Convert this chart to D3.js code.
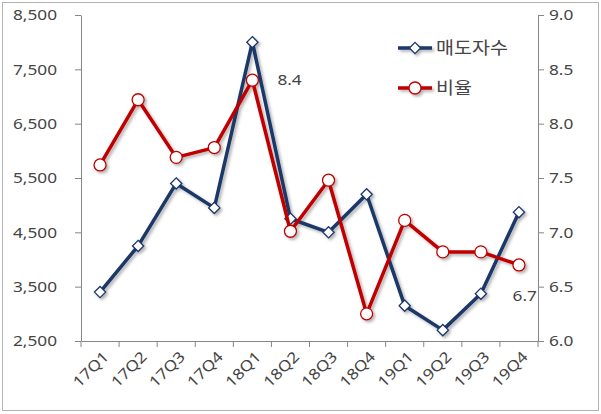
<!DOCTYPE html>
<html>
<head>
<meta charset="utf-8">
<script src="https://cdn.jsdelivr.net/npm/d3@7"></script>
<style>
  html, body { margin: 0; padding: 0; background: #fff; }
  svg { display: block; }
  text { font-family: "Noto Sans", "Noto Sans CJK KR", sans-serif; fill: #454545; }
</style>
</head>
<body>
<svg id="chart" width="601" height="414"></svg>
<script>
// Quarterly series
const quarters = ["17Q1","17Q2","17Q3","17Q4","18Q1","18Q2","18Q3","18Q4","19Q1","19Q2","19Q3","19Q4"];
const sellers = [3400, 4250, 5400, 4950, 8000, 4750, 4500, 5200, 3150, 2700, 3370, 4870];   // 매도자수 (left axis)
const ratio   = [7.62, 8.22, 7.69, 7.78, 8.4, 7.01, 7.48, 6.25, 7.11, 6.82, 6.82, 6.7];      // 비율 (right axis)
const leftTicks  = [2500, 3500, 4500, 5500, 6500, 7500, 8500];
const rightTicks = [6.0, 6.5, 7.0, 7.5, 8.0, 8.5, 9.0];
const seriesNames = ["매도자수", "비율"];

const svg = d3.select("#chart");
const W = 601, H = 414;
const plot = { left: 81, right: 538, top: 15, bottom: 341 };
const axisColor = "#868686";
const navy = "#1b3768", red = "#c00000";

// outer frame
svg.append("rect").attr("x", 2.5).attr("y", 2.5).attr("width", W - 5).attr("height", H - 6)
  .attr("fill", "#fff").attr("stroke", "#b4b4b4");

// soft drop shadow on lines and markers
const defs = svg.append("defs");
const f = defs.append("filter").attr("id", "shadow").attr("x", "-20%").attr("y", "-20%").attr("width", "140%").attr("height", "140%");
f.append("feDropShadow").attr("dx", 2).attr("dy", 2).attr("stdDeviation", 1.4)
  .attr("flood-color", "#000").attr("flood-opacity", 0.3);

const x = d3.scaleBand().domain(quarters).range([plot.left, plot.right]);
const yL = d3.scaleLinear().domain([2500, 8500]).range([plot.bottom, plot.top]);
const yR = d3.scaleLinear().domain([6, 9]).range([plot.bottom, plot.top]);
const cx = q => x(q) + x.bandwidth() / 2;

const fmtL = d3.format(",");
const fmtR = d3.format(".1f");
const sx = 1.15; // horizontal text stretch

function styleAxis(g) {
  g.selectAll("path.domain").attr("stroke", axisColor);
  g.selectAll(".tick line").attr("stroke", axisColor);
}

// left axis
const gL = svg.append("g").attr("transform", `translate(${plot.left},0)`)
  .call(d3.axisLeft(yL).tickValues(leftTicks).tickSize(6).tickSizeOuter(0).tickFormat(() => ""));
styleAxis(gL);
svg.append("g").selectAll("text").data(leftTicks).join("text")
  .attr("transform", d => `translate(57,${yL(d)}) scale(${sx},1)`)
  .attr("text-anchor", "end").attr("dy", "0.35em").attr("font-size", 15)
  .text(d => fmtL(d));

// right axis
const gR = svg.append("g").attr("transform", `translate(${plot.right},0)`)
  .call(d3.axisRight(yR).tickValues(rightTicks).tickSize(6).tickSizeOuter(0).tickFormat(() => ""));
styleAxis(gR);
svg.append("g").selectAll("text").data(rightTicks).join("text")
  .attr("transform", d => `translate(549,${yR(d)}) scale(${sx},1)`)
  .attr("dy", "0.35em").attr("font-size", 15)
  .text(d => fmtR(d));

// bottom axis with ticks between categories
const gB = svg.append("g").attr("transform", `translate(0,${plot.bottom})`)
  .call(d3.axisBottom(x).tickSize(0).tickSizeOuter(0).tickFormat(() => ""));
styleAxis(gB);
gB.selectAll(".tick line").remove();
gB.selectAll("line.sep").data(d3.range(quarters.length + 1)).join("line")
  .attr("class", "sep")
  .attr("x1", i => plot.left + i * x.step()).attr("x2", i => plot.left + i * x.step())
  .attr("y1", 0).attr("y2", 6).attr("stroke", axisColor);
svg.append("g").selectAll("text").data(quarters).join("text")
  .attr("transform", d => `translate(${cx(d) + 6},${plot.bottom + 13}) rotate(-45) scale(${sx},1)`)
  .attr("text-anchor", "end").attr("dy", "0.35em").attr("font-size", 15)
  .text(d => d);

// series lines
const lineL = d3.line().x((d, i) => cx(quarters[i])).y(d => yL(d));
const lineR = d3.line().x((d, i) => cx(quarters[i])).y(d => yR(d));

const gS = svg.append("g").attr("filter", "url(#shadow)");
gS.append("path").datum(sellers).attr("d", lineL).attr("fill", "none")
  .attr("stroke", navy).attr("stroke-width", 3.5).attr("stroke-linejoin", "round");
gS.selectAll("path.dia").data(sellers).join("path").attr("class", "dia")
  .attr("d", d3.symbol(d3.symbolDiamond2, 80))
  .attr("transform", (d, i) => `translate(${cx(quarters[i])},${yL(d)})`)
  .attr("fill", "#fff").attr("stroke", navy).attr("stroke-width", 1.3);

gS.append("path").datum(ratio).attr("d", lineR).attr("fill", "none")
  .attr("stroke", red).attr("stroke-width", 3.5).attr("stroke-linejoin", "round");
gS.selectAll("circle.dot").data(ratio).join("circle").attr("class", "dot")
  .attr("cx", (d, i) => cx(quarters[i])).attr("cy", d => yR(d)).attr("r", 6)
  .attr("fill", "#fff").attr("stroke", red).attr("stroke-width", 1.3);

// value labels on the ratio peak and last quarter
const iPeak = 4, iLast = quarters.length - 1;
svg.append("text")
  .attr("transform", `translate(${cx(quarters[iPeak]) + 25},${yR(ratio[iPeak])}) scale(${sx},1)`)
  .attr("dy", "0.35em").attr("font-size", 15).text(fmtR(ratio[iPeak]));
svg.append("text")
  .attr("transform", `translate(${cx(quarters[iLast]) + 18},${yR(ratio[iLast]) + 31}) scale(${sx},1)`)
  .attr("text-anchor", "end").attr("dy", "0.35em").attr("font-size", 15).text(fmtR(ratio[iLast]));

// legend
const lg = svg.append("g");
const legY = [48, 88];
const lgS = lg.append("g").attr("filter", "url(#shadow)");
lgS.append("line").attr("x1", 398).attr("x2", 432).attr("y1", legY[0]).attr("y2", legY[0])
  .attr("stroke", navy).attr("stroke-width", 3.5);
lgS.append("path").attr("d", d3.symbol(d3.symbolDiamond2, 80))
  .attr("transform", `translate(415,${legY[0]})`).attr("fill", "#fff").attr("stroke", navy).attr("stroke-width", 1.3);
lgS.append("line").attr("x1", 398).attr("x2", 432).attr("y1", legY[1]).attr("y2", legY[1])
  .attr("stroke", red).attr("stroke-width", 3.5);
lgS.append("circle").attr("cx", 415).attr("cy", legY[1]).attr("r", 6)
  .attr("fill", "#fff").attr("stroke", red).attr("stroke-width", 1.3);
lg.selectAll("text").data(seriesNames).join("text")
  .attr("transform", (d, i) => `translate(436,${legY[i]}) scale(${sx},1)`)
  .attr("dy", "0.35em").attr("font-size", 17)
  .style("font-family", "'Noto Sans CJK KR', sans-serif")
  .text(d => d);
</script>
</body>
</html>
